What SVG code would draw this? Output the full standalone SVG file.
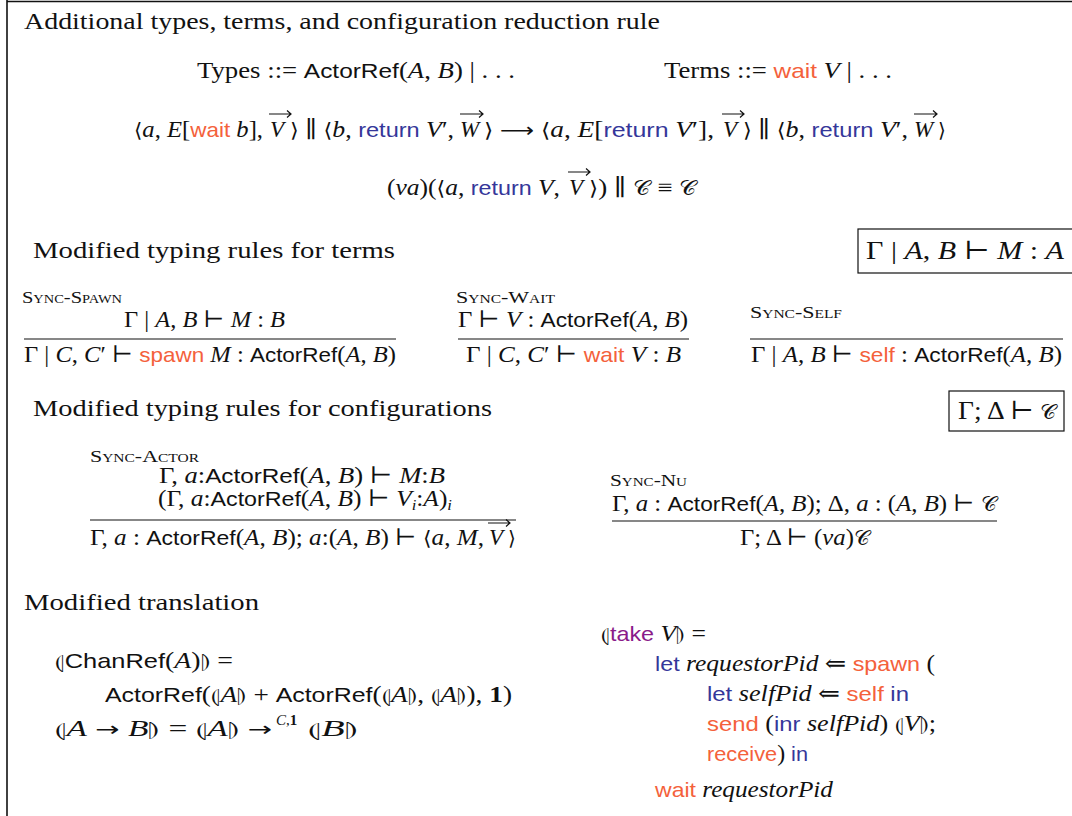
<svg xmlns="http://www.w3.org/2000/svg" width="1072" height="816" viewBox="0 0 1072 816">
<style>
text{font-family:"Liberation Serif","DejaVu Serif",serif;font-size:23px;fill:#111}
.i{font-style:italic}
.s{font-family:"Liberation Sans","DejaVu Sans",sans-serif;font-size:21px}
.o{fill:#f4613b}
.b{fill:#35379a}
.p{fill:#8a1b8a}
.sc{font-variant:small-caps;font-size:17px}
.sym{font-family:"DejaVu Sans","Liberation Serif",sans-serif;font-size:20px}
.bf{font-weight:bold}
.big{font-size:25px}
.sup{font-size:15px}
.rule{stroke:#111;stroke-width:1.1}
.vec{stroke:#111;stroke-width:1.2;fill:none}
.frame{stroke:#111;fill:none}
</style>
<g id="frame">
<line class="frame" x1="7" y1="0" x2="7" y2="816" stroke-width="1.6"/>
<line class="frame" x1="7" y1="1.5" x2="1072" y2="1.5" stroke-width="1.4"/>
</g>
<g id="header">
<text x="24" y="29" textLength="636" lengthAdjust="spacingAndGlyphs">Additional types, terms, and configuration reduction rule</text>
<text x="197" y="78" textLength="318" lengthAdjust="spacingAndGlyphs">Types ::= <tspan class="s">ActorRef</tspan>(<tspan class="i">A</tspan>, <tspan class="i">B</tspan>)  |  . . .</text>
<text x="664" y="78" textLength="228" lengthAdjust="spacingAndGlyphs">Terms ::= <tspan class="s o">wait</tspan> <tspan class="i">V</tspan>  |  . . .</text>
</g>
<g id="reduction">
<text x="134" y="137" textLength="129" lengthAdjust="spacingAndGlyphs"><tspan class="sym">⟨</tspan><tspan class="i">a</tspan>, <tspan class="i">E</tspan>[<tspan class="s o">wait</tspan> <tspan class="i">b</tspan>],</text>
<text class="i" x="270" y="137">V</text>
<text x="290" y="137" textLength="164" lengthAdjust="spacingAndGlyphs"><tspan class="sym">⟩</tspan> ∥ <tspan class="sym">⟨</tspan><tspan class="i">b</tspan>, <tspan class="s b">return</tspan> <tspan class="i">V</tspan>′,</text>
<text class="i" x="460" y="137">W</text>
<text x="484" y="137" textLength="230" lengthAdjust="spacingAndGlyphs"><tspan class="sym">⟩</tspan> <tspan class="sym">⟶</tspan> <tspan class="sym">⟨</tspan><tspan class="i">a</tspan>, <tspan class="i">E</tspan>[<tspan class="s b">return</tspan> <tspan class="i">V</tspan>′],</text>
<text class="i" x="723" y="137">V</text>
<text x="743" y="137" textLength="165" lengthAdjust="spacingAndGlyphs"><tspan class="sym">⟩</tspan> ∥ <tspan class="sym">⟨</tspan><tspan class="i">b</tspan>, <tspan class="s b">return</tspan> <tspan class="i">V</tspan>′,</text>
<text class="i" x="914" y="137">W</text>
<text class="sym" x="938" y="137">⟩</text>
<text x="387" y="195" textLength="173" lengthAdjust="spacingAndGlyphs">(<tspan class="i">νa</tspan>)(<tspan class="sym">⟨</tspan><tspan class="i">a</tspan>, <tspan class="s b">return</tspan> <tspan class="i">V</tspan>,</text>
<text class="i" x="569" y="195">V</text>
<text x="589" y="195" textLength="108" lengthAdjust="spacingAndGlyphs"><tspan class="sym">⟩</tspan>) ∥ <tspan class="sym">𝒞</tspan> ≡ <tspan class="sym">𝒞</tspan></text>
<path class="vec" d="M269 114H291M287 110.5L291 114L287 117.5"/>
<path class="vec" d="M460 114H483M479 110.5L483 114L479 117.5"/>
<path class="vec" d="M722 114H744M740 110.5L744 114L740 117.5"/>
<path class="vec" d="M914 114H937M933 110.5L937 114L933 117.5"/>
<path class="vec" d="M568 172H590M586 168.5L590 172L586 175.5"/>
</g>
<g id="terms-heading">
<text x="33" y="258" textLength="362" lengthAdjust="spacingAndGlyphs">Modified typing rules for terms</text>
<rect x="858" y="229" width="230" height="44" fill="none" stroke="#111" stroke-width="1.2"/>
<text class="big" x="866" y="259" textLength="198" lengthAdjust="spacingAndGlyphs">Γ | <tspan class="i">A</tspan>, <tspan class="i">B</tspan> ⊢ <tspan class="i">M</tspan> : <tspan class="i">A</tspan></text>
</g>
<g id="sync-spawn">
<text class="sc" x="22" y="303" textLength="100" lengthAdjust="spacingAndGlyphs">Sync-Spawn</text>
<text x="124" y="327" textLength="161" lengthAdjust="spacingAndGlyphs">Γ | <tspan class="i">A</tspan>, <tspan class="i">B</tspan> ⊢ <tspan class="i">M</tspan> : <tspan class="i">B</tspan></text>
<line class="rule" x1="24" y1="339" x2="396" y2="339"/>
<text x="24" y="362" textLength="372" lengthAdjust="spacingAndGlyphs">Γ | <tspan class="i">C</tspan>, <tspan class="i">C</tspan>′ ⊢ <tspan class="s o">spawn</tspan> <tspan class="i">M</tspan> : <tspan class="s">ActorRef</tspan>(<tspan class="i">A</tspan>, <tspan class="i">B</tspan>)</text>
</g>
<g id="sync-wait">
<text class="sc" x="456" y="303" textLength="99" lengthAdjust="spacingAndGlyphs">Sync-Wait</text>
<text x="458" y="327" textLength="230" lengthAdjust="spacingAndGlyphs">Γ ⊢ <tspan class="i">V</tspan> : <tspan class="s">ActorRef</tspan>(<tspan class="i">A</tspan>, <tspan class="i">B</tspan>)</text>
<line class="rule" x1="458" y1="339" x2="689" y2="339"/>
<text x="466" y="362" textLength="215" lengthAdjust="spacingAndGlyphs">Γ | <tspan class="i">C</tspan>, <tspan class="i">C</tspan>′ ⊢ <tspan class="s o">wait</tspan> <tspan class="i">V</tspan> : <tspan class="i">B</tspan></text>
</g>
<g id="sync-self">
<text class="sc" x="750" y="318" textLength="92" lengthAdjust="spacingAndGlyphs">Sync-Self</text>
<line class="rule" x1="750" y1="339" x2="1063" y2="339"/>
<text x="751" y="362" textLength="311" lengthAdjust="spacingAndGlyphs">Γ | <tspan class="i">A</tspan>, <tspan class="i">B</tspan> ⊢ <tspan class="s o">self</tspan> : <tspan class="s">ActorRef</tspan>(<tspan class="i">A</tspan>, <tspan class="i">B</tspan>)</text>
</g>
<g id="config-heading">
<text x="33" y="416" textLength="459" lengthAdjust="spacingAndGlyphs">Modified typing rules for configurations</text>
<rect x="949" y="391" width="115" height="40" fill="none" stroke="#111" stroke-width="1.2"/>
<text class="big" x="958" y="419" textLength="99" lengthAdjust="spacingAndGlyphs">Γ; Δ ⊢ <tspan class="sym">𝒞</tspan></text>
</g>
<g id="sync-actor">
<text class="sc" x="90" y="462" textLength="109" lengthAdjust="spacingAndGlyphs">Sync-Actor</text>
<text x="159" y="483" textLength="286" lengthAdjust="spacingAndGlyphs">Γ, <tspan class="i">a</tspan>:<tspan class="s">ActorRef</tspan>(<tspan class="i">A</tspan>, <tspan class="i">B</tspan>) ⊢ <tspan class="i">M</tspan>:<tspan class="i">B</tspan></text>
<text x="158" y="506" textLength="294" lengthAdjust="spacingAndGlyphs">(Γ, <tspan class="i">a</tspan>:<tspan class="s">ActorRef</tspan>(<tspan class="i">A</tspan>, <tspan class="i">B</tspan>) ⊢ <tspan class="i">V</tspan><tspan class="i sup" dy="4">i</tspan><tspan dy="-4">:</tspan><tspan class="i">A</tspan>)<tspan class="i sup" dy="4">i</tspan></text>
<line class="rule" x1="90" y1="520" x2="516" y2="520"/>
<text x="90" y="545" textLength="394" lengthAdjust="spacingAndGlyphs">Γ, <tspan class="i">a</tspan> : <tspan class="s">ActorRef</tspan>(<tspan class="i">A</tspan>, <tspan class="i">B</tspan>); <tspan class="i">a</tspan>:(<tspan class="i">A</tspan>, <tspan class="i">B</tspan>) ⊢ <tspan class="sym">⟨</tspan><tspan class="i">a</tspan>, <tspan class="i">M</tspan>,</text>
<text class="i" x="489" y="545">V</text>
<text class="sym" x="508" y="545">⟩</text>
<path class="vec" d="M488 523H510M506 519.5L510 523L506 526.5"/>
</g>
<g id="sync-nu">
<text class="sc" x="610" y="486" textLength="77" lengthAdjust="spacingAndGlyphs">Sync-Nu</text>
<text x="612" y="511" textLength="385" lengthAdjust="spacingAndGlyphs">Γ, <tspan class="i">a</tspan> : <tspan class="s">ActorRef</tspan>(<tspan class="i">A</tspan>, <tspan class="i">B</tspan>); Δ, <tspan class="i">a</tspan> : (<tspan class="i">A</tspan>, <tspan class="i">B</tspan>) ⊢ <tspan class="sym">𝒞</tspan></text>
<line class="rule" x1="612" y1="521" x2="997" y2="521"/>
<text x="740" y="545" textLength="130" lengthAdjust="spacingAndGlyphs">Γ; Δ ⊢ (<tspan class="i">νa</tspan>)<tspan class="sym">𝒞</tspan></text>
</g>
<g id="translation-types">
<text x="24" y="610" textLength="235" lengthAdjust="spacingAndGlyphs">Modified translation</text>
<text x="55" y="668" textLength="178" lengthAdjust="spacingAndGlyphs"><tspan class="sym">⦇</tspan><tspan class="s">ChanRef</tspan>(<tspan class="i">A</tspan>)<tspan class="sym">⦈</tspan> =</text>
<text x="105" y="702" textLength="407" lengthAdjust="spacingAndGlyphs"><tspan class="s">ActorRef</tspan>(<tspan class="sym">⦇</tspan><tspan class="i">A</tspan><tspan class="sym">⦈</tspan> + <tspan class="s">ActorRef</tspan>(<tspan class="sym">⦇</tspan><tspan class="i">A</tspan><tspan class="sym">⦈</tspan>, <tspan class="sym">⦇</tspan><tspan class="i">A</tspan><tspan class="sym">⦈</tspan>), <tspan class="bf">1</tspan>)</text>
<text x="55" y="736" textLength="217" lengthAdjust="spacingAndGlyphs"><tspan class="sym">⦇</tspan><tspan class="i">A</tspan> <tspan class="sym">→</tspan> <tspan class="i">B</tspan><tspan class="sym">⦈</tspan> = <tspan class="sym">⦇</tspan><tspan class="i">A</tspan><tspan class="sym">⦈</tspan> <tspan class="sym">→</tspan></text>
<text class="sup" x="276" y="725"><tspan class="i">C</tspan>,<tspan class="bf">1</tspan></text>
<text x="308" y="736" textLength="50" lengthAdjust="spacingAndGlyphs"><tspan class="sym">⦇</tspan><tspan class="i">B</tspan><tspan class="sym">⦈</tspan></text>
</g>
<g id="translation-take">
<text x="601" y="641" textLength="105" lengthAdjust="spacingAndGlyphs"><tspan class="sym">⦇</tspan><tspan class="s p">take</tspan> <tspan class="i">V</tspan><tspan class="sym">⦈</tspan> =</text>
<text x="655" y="671" textLength="280" lengthAdjust="spacingAndGlyphs"><tspan class="s b">let</tspan> <tspan class="i">requestorPid</tspan> ⇐ <tspan class="s o">spawn</tspan> (</text>
<text x="707" y="701" textLength="202" lengthAdjust="spacingAndGlyphs"><tspan class="s b">let</tspan> <tspan class="i">selfPid</tspan> ⇐ <tspan class="s o">self</tspan> <tspan class="s b">in</tspan></text>
<text x="707" y="731" textLength="229" lengthAdjust="spacingAndGlyphs"><tspan class="s o">send</tspan> (<tspan class="s b">inr</tspan> <tspan class="i">selfPid</tspan>) <tspan class="sym">⦇</tspan><tspan class="i">V</tspan><tspan class="sym">⦈</tspan>;</text>
<text x="707" y="761" textLength="101" lengthAdjust="spacingAndGlyphs"><tspan class="s o">receive</tspan>) <tspan class="s b">in</tspan></text>
<text x="655" y="797" textLength="178" lengthAdjust="spacingAndGlyphs"><tspan class="s o">wait</tspan> <tspan class="i">requestorPid</tspan></text>
</g>
</svg>
